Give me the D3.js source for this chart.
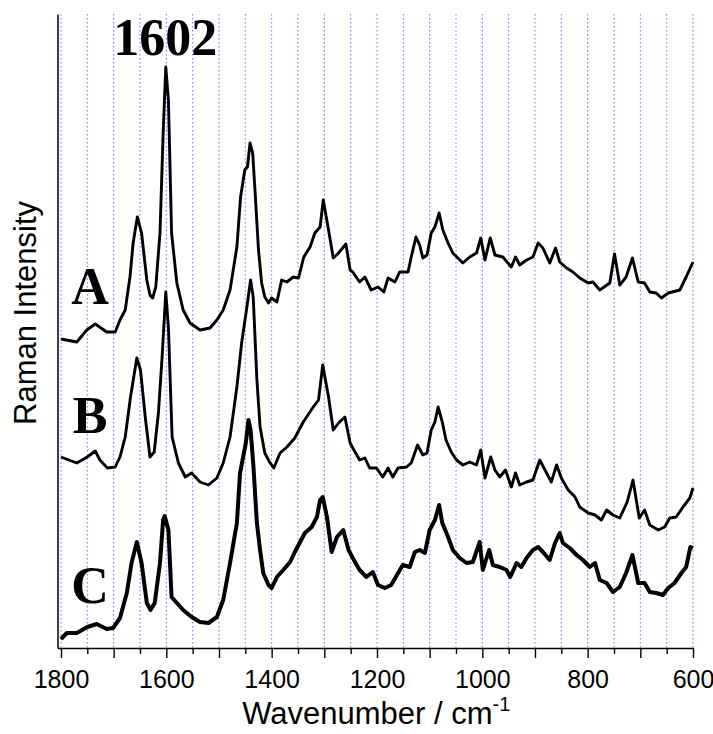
<!DOCTYPE html>
<html>
<head>
<meta charset="utf-8">
<script src="https://cdn.jsdelivr.net/npm/d3@7"></script>
<style>
  html, body { margin: 0; padding: 0; background: #fff; }
  svg { display: block; }
</style>
</head>
<body>
<svg id="chart" width="713" height="734"></svg>
<script>
// ---- data: [wavenumber (cm-1), Raman intensity (arb. units)] ----
const spectrumA = [
[1800,309],[1770,306],[1751,318],[1735,324],[1713,316],[1697,316],[1688,328],[1678,338],[1669,371],[1663,405],
[1655,431],[1647,415],[1637,368],[1631,353],[1626,350],[1620,361],[1612,415],[1606,515],[1601,581],[1596,548],
[1590,415],[1580,365],[1568,338],[1555,325],[1536,318],[1517,320],[1504,328],[1492,338],[1479,358],[1466,401],
[1459,451],[1451,478],[1446,481],[1441,505],[1436,495],[1432,461],[1425,398],[1419,365],[1413,351],[1406,345],
[1400,350],[1390,346],[1381,368],[1371,366],[1359,371],[1349,370],[1339,391],[1327,401],[1318,415],[1308,421],
[1302,448],[1292,418],[1283,390],[1273,395],[1259,404],[1251,378],[1246,376],[1233,366],[1223,371],[1211,358],
[1198,361],[1187,356],[1179,370],[1166,366],[1157,376],[1141,376],[1135,391],[1126,411],[1119,403],[1113,390],
[1105,393],[1097,415],[1090,421],[1082,435],[1075,418],[1065,405],[1056,395],[1037,385],[1024,391],[1011,395],
[1003,410],[995,388],[985,410],[976,393],[961,391],[945,381],[937,391],[929,383],[916,388],[904,391],
[894,405],[885,400],[872,385],[861,400],[853,386],[840,380],[828,376],[815,370],[799,365],[790,366],
[777,358],[758,365],[749,394],[739,363],[727,371],[715,390],[704,366],[692,365],[682,356],[670,355],
[660,350],[647,355],[625,358],[613,371],[600,386]
];
const spectrumB = [
[1800,191],[1770,185],[1750,191],[1735,197],[1726,188],[1712,180],[1697,181],[1688,191],[1678,211],[1668,251],
[1656,290],[1649,278],[1640,231],[1631,191],[1623,196],[1615,235],[1608,291],[1601,356],[1596,321],[1589,211],
[1577,185],[1564,171],[1552,175],[1536,166],[1520,163],[1504,170],[1492,185],[1479,211],[1466,261],[1457,305],
[1447,341],[1440,368],[1435,351],[1428,268],[1422,221],[1413,195],[1404,186],[1396,180],[1384,195],[1371,201],
[1356,210],[1340,226],[1321,241],[1311,248],[1303,283],[1292,251],[1283,218],[1273,225],[1261,231],[1251,205],
[1246,200],[1233,188],[1223,190],[1214,180],[1201,180],[1189,171],[1179,180],[1170,171],[1160,180],[1144,181],
[1135,185],[1123,203],[1113,193],[1105,195],[1097,218],[1090,226],[1084,241],[1076,226],[1069,208],[1059,196],
[1049,188],[1037,183],[1024,186],[1011,183],[1003,198],[995,170],[984,191],[976,178],[967,171],[956,178],
[945,161],[937,175],[929,163],[916,166],[904,168],[891,188],[881,178],[869,166],[859,183],[850,170],
[837,158],[824,151],[815,141],[799,135],[786,133],[774,128],[764,138],[752,133],[739,130],[725,146],
[714,168],[702,130],[692,138],[682,123],[666,118],[654,121],[644,130],[632,131],[619,141],[606,150],[600,160]
];
const spectrumC = [
[1800,9],[1789,15],[1770,15],[1750,21],[1732,24],[1713,19],[1701,20],[1688,30],[1675,55],[1666,85],
[1656,106],[1647,85],[1637,45],[1630,38],[1622,45],[1612,85],[1606,128],[1603,132],[1596,118],[1590,51],
[1580,45],[1568,38],[1552,31],[1536,26],[1520,25],[1504,31],[1492,48],[1479,85],[1466,125],[1460,175],
[1449,205],[1444,228],[1440,218],[1435,185],[1428,125],[1422,98],[1416,75],[1406,63],[1400,60],[1390,71],
[1378,78],[1365,86],[1356,96],[1346,106],[1337,115],[1324,121],[1314,131],[1308,148],[1303,151],[1295,131],
[1286,96],[1276,111],[1264,118],[1254,98],[1246,90],[1233,78],[1220,71],[1208,76],[1198,63],[1185,60],
[1173,63],[1160,75],[1151,83],[1138,81],[1128,96],[1119,98],[1109,95],[1100,118],[1090,128],[1082,143],
[1076,125],[1065,111],[1056,98],[1043,90],[1030,85],[1018,86],[1005,106],[999,78],[987,98],[980,83],
[967,81],[954,78],[947,71],[935,85],[926,81],[916,90],[904,98],[894,101],[885,96],[872,88],
[862,105],[853,115],[847,105],[834,100],[821,93],[809,88],[796,81],[786,85],[777,68],[764,65],
[752,56],[739,61],[727,75],[715,93],[704,65],[692,65],[682,56],[670,55],[657,53],[647,60],
[635,65],[622,75],[613,81],[605,101],[600,100]
];
const seriesNames = ["A", "B", "C"];
const labelYValues = [344, 215, 45];   // intensity level of each series label baseline
const peakLabel = { text: "1602", wavenumber: 1602 };
const majorTicks = [1800,1700,1600,1500,1400,1300,1200,1100,1000,900,800,700,600];
const minorTicks = [1750,1650,1550,1450,1350,1250,1150,1050,950,850,750,650];
const labeledTicks = [1800,1600,1400,1200,1000,800,600];
const gridValues = d3.range(600, 1801, 50);

// ---- layout ----
const svg = d3.select("#chart");
const plotTop = 14, plotBottom = 648, plotLeft = 57.5, plotRight = 693;

const x = d3.scaleLinear().domain([1806.6, 600]).range([plotLeft, plotRight]);
const y = d3.scaleLinear().domain([0, 634]).range([plotBottom, plotTop]);

// grid
svg.append("g").selectAll("line").data(gridValues).join("line")
  .attr("x1", d => x(d)).attr("x2", d => x(d))
  .attr("y1", plotTop).attr("y2", plotBottom)
  .attr("stroke", "#6f6fff").attr("stroke-width", 1)
  .attr("stroke-dasharray", "1.5,2.5");

// spectra
const line = d3.line().x(d => x(d[0])).y(d => y(d[1]));
const spectra = [spectrumA, spectrumB, spectrumC];
svg.append("g").selectAll("path").data(spectra).join("path")
  .attr("d", line)
  .attr("fill", "none")
  .attr("stroke", "#000")
  .attr("stroke-width", (d, i) => i === 2 ? 4 : 2.9)
  .attr("stroke-linejoin", "round");

// x axis: minor ticks
const xMinor = d3.axisBottom(x).tickValues(minorTicks).tickSize(6).tickFormat("").tickSizeOuter(0);
svg.append("g").attr("transform", `translate(0,${plotBottom})`).call(xMinor)
  .call(g => g.select(".domain").remove())
  .call(g => g.selectAll("line").attr("stroke", "#000").attr("stroke-width", 1.4));

// x axis: major ticks
const xMajor = d3.axisBottom(x).tickValues(majorTicks).tickSize(10).tickSizeOuter(0)
  .tickFormat(d => labeledTicks.includes(d) ? d : "");
svg.append("g").attr("transform", `translate(0,${plotBottom})`).call(xMajor)
  .call(g => g.select(".domain").attr("stroke", "#000").attr("stroke-width", 1.5))
  .call(g => g.selectAll("line").attr("stroke", "#000").attr("stroke-width", 1.4))
  .call(g => g.selectAll("text")
      .attr("fill", "#000")
      .attr("font-family", "'Liberation Sans', Arial, sans-serif")
      .attr("font-size", 25)
      .attr("dy", null)
      .attr("y", 40));

// y axis (line only)
const yAxis = d3.axisLeft(y).tickValues([]).tickSizeOuter(0);
svg.append("g").attr("transform", `translate(${plotLeft},0)`).call(yAxis)
  .call(g => g.select(".domain").attr("stroke", "#000").attr("stroke-width", 1.5));

// axis titles
const xt = svg.append("text")
  .attr("x", (plotLeft + plotRight) / 2 + 1).attr("y", 724)
  .attr("text-anchor", "middle")
  .attr("font-family", "'Liberation Sans', Arial, sans-serif")
  .attr("font-size", 31)
  .attr("fill", "#000");
xt.append("tspan").text("Wavenumber / cm");
xt.append("tspan").attr("font-size", 20).attr("dy", -13).text("-1");

svg.append("text")
  .attr("transform", "translate(36,313) rotate(-90)")
  .attr("text-anchor", "middle")
  .attr("font-family", "'Liberation Sans', Arial, sans-serif")
  .attr("font-size", 31)
  .attr("fill", "#000")
  .text("Raman Intensity");

// series labels
svg.append("g").selectAll("text").data(seriesNames).join("text")
  .attr("x", 90)
  .attr("y", (d, i) => y(labelYValues[i]))
  .attr("text-anchor", "middle")
  .attr("font-family", "'Liberation Serif', 'Times New Roman', serif")
  .attr("font-weight", "bold")
  .attr("font-size", 52)
  .attr("fill", "#000")
  .text(d => d);

// peak annotation
svg.append("text")
  .attr("x", x(peakLabel.wavenumber)).attr("y", 55)
  .attr("text-anchor", "middle")
  .attr("font-family", "'Liberation Serif', 'Times New Roman', serif")
  .attr("font-weight", "bold")
  .attr("font-size", 52)
  .attr("fill", "#000")
  .text(peakLabel.text);
</script>
</body>
</html>
